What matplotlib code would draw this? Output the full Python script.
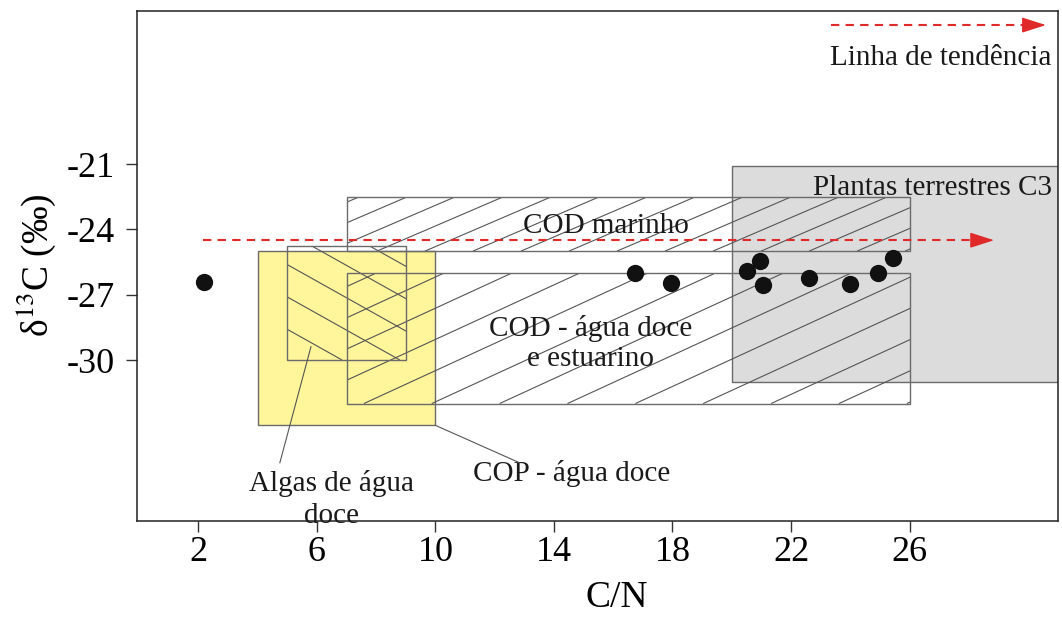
import numpy as np
import matplotlib.pyplot as plt
from matplotlib.patches import Rectangle
from matplotlib.collections import LineCollection

plt.rcParams['font.family'] = ['Liberation Serif', 'DejaVu Serif']
plt.rcParams['mathtext.fontset'] = 'stix'
plt.rcParams['lines.scale_dashes'] = False
plt.rcParams['axes.unicode_minus'] = False

# amostras (C/N, d13C)
cn = [2.2, 16.75, 17.95, 20.5, 20.95, 21.05, 22.6, 24.0, 24.95, 25.45]
d13c = [-26.4, -26.0, -26.45, -25.9, -25.45, -26.55, -26.25, -26.5, -26.0, -25.3]

# campos: (x0, x1), (y0, y1)
algas_x, algas_y = (4, 10), (-33, -25)
cop_x, cop_y = (5, 9), (-30, -24.75)
cod_mar_x, cod_mar_y = (7, 26), (-25, -22.5)
cod_doce_x, cod_doce_y = (7, 26), (-32, -26)
c3_x, c3_y = (20, 31), (-31, -21.1)

# linha de tendencia
trend_x, trend_y = (2.15, 28.85), -24.5
leg_x, leg_y = (23.35, 30.6), -14.62

xticks = [2, 6, 10, 14, 18, 22, 26]
yticks = [-30, -27, -24, -21]

RED = '#e02a2a'
EDGE = '#6b6b6b'

fig = plt.figure(figsize=(10.62, 6.18), dpi=100)
ax = fig.add_axes([0.129, 0.1574, 0.867, 0.8253])
ax.set_xlim(-0.07, 31)
ax.set_ylim(-37.38, -13.96)


def box(xs, ys, **kw):
    r = Rectangle((xs[0], ys[0]), xs[1] - xs[0], ys[1] - ys[0], **kw)
    ax.add_patch(r)
    return r


def hatch(xs, ys, slope, step, clip, phase=0.0):
    # linhas inclinadas recortadas pela caixa
    x0, x1 = xs
    y0, y1 = ys
    span = (x1 - x0) + (y1 - y0) / abs(slope)
    segs = []
    for k in np.arange(-span, span, step):
        xa = x0 + k + phase
        if slope > 0:
            segs.append([(xa, y0), (xa + (y1 - y0) / slope, y1)])
        else:
            segs.append([(xa, y1), (xa - (y1 - y0) / slope, y0)])
    lc = LineCollection(segs, colors='#555555', linewidths=0.8, zorder=2.2)
    ax.add_collection(lc, autolim=False)
    lc.set_clip_path(clip)


box(c3_x, c3_y, facecolor='#dcdcdc', edgecolor=EDGE, lw=1.0, zorder=1)
box(algas_x, algas_y, facecolor='#fff59a', edgecolor=EDGE, lw=1.0, zorder=1.1)

r = box(cod_mar_x, cod_mar_y, facecolor='none', edgecolor=EDGE, lw=1.0, zorder=2.5)
hatch(cod_mar_x, cod_mar_y, 0.585, 1.62, r)
r = box(cod_doce_x, cod_doce_y, facecolor='none', edgecolor=EDGE, lw=1.0, zorder=2.5)
hatch(cod_doce_x, cod_doce_y, 0.626, 2.29, r, phase=-0.6)
r = box(cop_x, cop_y, facecolor='none', edgecolor=EDGE, lw=1.0, zorder=2.5)
hatch(cop_x, cop_y, -0.762, 1.95, r)

# setas tracejadas
for xs, y in [(trend_x, trend_y), (leg_x, leg_y)]:
    ax.plot([xs[0], xs[1] - 0.5], [y, y], color=RED, lw=1.5, dashes=(6, 4.5), zorder=4)
    ax.annotate('', xy=(xs[1], y), xytext=(xs[1] - 0.7, y),
                arrowprops=dict(arrowstyle='-|>,head_length=1.0,head_width=0.32',
                                mutation_scale=15, color=RED, lw=1.0,
                                shrinkA=0, shrinkB=0), zorder=4)

ax.scatter(cn, d13c, s=155, color='#111111', zorder=5, linewidths=0)

# textos
tk = dict(fontsize=21, color='#1a1a1a', zorder=3)
ax.text(30.8, -16.45, 'Linha de tendência', ha='right', va='baseline', **tk)
ax.text(30.8, -22.42, 'Plantas terrestres C3', ha='right', va='baseline', **tk)
ax.text(15.76, -24.17, 'COD marinho', ha='center', va='baseline', **tk)
ax.text(15.23, -29.25, 'COD - água doce\ne estuarino', ha='center', va='center',
        linespacing=1.2, **tk)
ax.text(14.61, -35.57, 'COP - água doce', ha='center', va='baseline', **tk)
ax.text(6.5, -36.4, 'Algas de água\ndoce', ha='center', va='center',
        linespacing=1.3, **tk)

# linhas de chamada
ax.plot([4.75, 5.8], [-34.72, -29.39], color='#555555', lw=0.8, zorder=3)
ax.plot([10.0, 12.84], [-33.0, -34.72], color='#555555', lw=0.8, zorder=3)

ax.set_xticks(xticks)
ax.set_yticks(yticks)
ax.tick_params(axis='both', labelsize=26, length=8, width=1.0, color='#333333')
ax.tick_params(axis='y', pad=8)
ax.tick_params(axis='x', pad=3)
for s in ax.spines.values():
    s.set_linewidth(1.1)
    s.set_color('#222222')

ax.set_xlabel('C/N', fontsize=27, labelpad=8)
ax.xaxis.label.set_x(0.521)
ax.set_ylabel(r'δ$^{13}$C (‰)', fontsize=27, labelpad=6)

fig.savefig('out.png', dpi=100)
